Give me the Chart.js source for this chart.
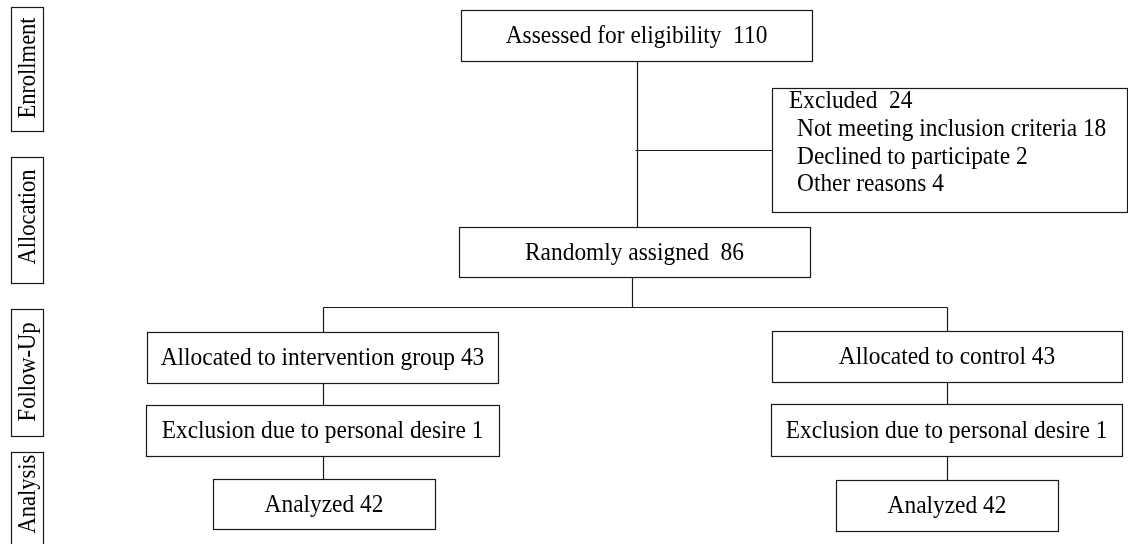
<!DOCTYPE html>
<html>
<head>
<meta charset="utf-8">
<script src="https://cdn.jsdelivr.net/npm/chart.js@4.4.1/dist/chart.umd.min.js"></script>
<style>
  body { margin: 0; background: #fff; }
  #wrap { width: 1128px; height: 544px; position: relative; }
</style>
</head>
<body>
<div id="wrap"><canvas id="myChart"></canvas></div>
<script>
// phases down the left side
var phases = ["Enrollment", "Allocation", "Follow-Up", "Analysis"];

// main flow steps and their counts
var stepLabels = ["Assessed for eligibility", "Randomly assigned",
  "Allocated to intervention group", "Exclusion due to personal desire", "Analyzed",
  "Allocated to control", "Exclusion due to personal desire", "Analyzed"];
var stepCounts = [110, 86, 43, 1, 42, 43, 1, 42];

// excluded before randomisation
var excludedTitle = "Excluded";
var excludedTotal = 24;
var excludedReasons = ["Not meeting inclusion criteria", "Declined to participate", "Other reasons"];
var excludedCounts = [18, 2, 4];

// layout of the boxes (diagram units == picture pixels), kept apart from the data
var phaseBoxes = [[11, 7, 43, 131], [11, 157, 43, 283], [11, 309, 43, 436], [11, 452, 43, 560]];
var phaseLabelY = [68, 217, 372, 494];
var stepBoxes = [
  [461, 10, 812, 61], [459, 227, 810, 277],
  [147, 332, 498, 383], [146, 405, 499, 456], [213, 479, 435, 529],
  [772, 331, 1122, 382], [771, 404, 1122, 456], [836, 480, 1058, 531]
];
var stepGap = ["  ", "  ", " ", " ", " ", " ", " ", " "];
var excludedBox = [772, 88, 1127, 212];
var splitY = 307;

var FONT = "'Liberation Serif', 'Times New Roman', serif";
var INK = "#1a1a1a";
var SQUEEZE = 0.9; // the source type is tall and narrow

var flowPlugin = {
  id: "flow",
  afterDraw: function (chart) {
    var c = chart.ctx, sx = chart.scales.x, sy = chart.scales.y;
    var X = function (v) { return sx.getPixelForValue(v); };
    var Y = function (v) { return sy.getPixelForValue(v); };

    c.save();
    c.strokeStyle = INK;
    c.fillStyle = "#000";
    c.lineWidth = 1.2;

    function rect(b) {
      c.strokeRect(Math.round(X(b[0])) + 0.5, Math.round(Y(b[1])) + 0.5,
        Math.round(X(b[2]) - X(b[0])), Math.round(Y(b[3]) - Y(b[1])));
    }
    function seg(x0, y0, x1, y1) {
      c.beginPath();
      c.moveTo(Math.round(X(x0)) + 0.5, Math.round(Y(y0)) + 0.5);
      c.lineTo(Math.round(X(x1)) + 0.5, Math.round(Y(y1)) + 0.5);
      c.stroke();
    }
    function mid(b) { return (b[0] + b[2]) / 2; }
    function txt(s, x, y) {
      c.save();
      c.translate(x, y);
      c.scale(SQUEEZE, 1);
      c.fillText(s, 0, 0);
      c.restore();
    }

    // connectors
    var top = stepBoxes[0], rnd = stepBoxes[1];
    var trunk = mid(top);
    seg(trunk, top[3], trunk, rnd[1]);
    seg(trunk - 2, (excludedBox[1] + excludedBox[3]) / 2, excludedBox[0], (excludedBox[1] + excludedBox[3]) / 2);
    var armL = mid(stepBoxes[2]), armR = mid(stepBoxes[5]);
    seg(mid(rnd) - 3, rnd[3], mid(rnd) - 3, splitY);
    seg(armL, splitY, armR, splitY);
    seg(armL, splitY, armL, stepBoxes[2][1]);
    seg(armR, splitY, armR, stepBoxes[5][1]);
    [[2, 3], [3, 4], [5, 6], [6, 7]].forEach(function (p) {
      var a = stepBoxes[p[0]], b = stepBoxes[p[1]];
      var x = Math.min(mid(a), mid(b));
      seg(x, a[3], x, b[1]);
    });

    // boxes
    stepBoxes.forEach(rect);
    rect(excludedBox);
    phaseBoxes.forEach(rect);

    // step texts
    c.font = "26px " + FONT;
    c.textAlign = "center";
    c.textBaseline = "middle";
    stepBoxes.forEach(function (b, i) {
      txt(stepLabels[i] + stepGap[i] + stepCounts[i], X(mid(b)), Y((b[1] + b[3]) / 2) + 1);
    });

    // excluded list
    c.textAlign = "left";
    txt(excludedTitle + "  " + excludedTotal, X(excludedBox[0] + 17), Y(excludedBox[1] + 13));
    excludedReasons.forEach(function (r, i) {
      txt(r + " " + excludedCounts[i], X(excludedBox[0] + 25), Y(excludedBox[1] + 41 + i * 27.7));
    });

    // phase labels, rotated
    c.font = "25px " + FONT;
    c.textAlign = "center";
    phaseBoxes.forEach(function (b, i) {
      c.save();
      c.translate(X(mid(b)) + 1, Y(phaseLabelY[i]));
      c.rotate(-Math.PI / 2);
      txt(phases[i], 0, 0);
      c.restore();
    });
    c.restore();
  }
};

var ctx = document.getElementById("myChart").getContext("2d");
var chart = new Chart(ctx, {
  type: "scatter",
  data: { datasets: [{ data: [], pointRadius: 0 }] },
  options: {
    responsive: true,
    maintainAspectRatio: false,
    animation: false,
    layout: { padding: 0 },
    plugins: { legend: { display: false }, tooltip: { enabled: false } },
    scales: {
      x: { type: "linear", min: 0, max: 1128, display: false },
      y: { type: "linear", min: 0, max: 544, reverse: true, display: false }
    }
  },
  plugins: [flowPlugin]
});
</script>
</body>
</html>
